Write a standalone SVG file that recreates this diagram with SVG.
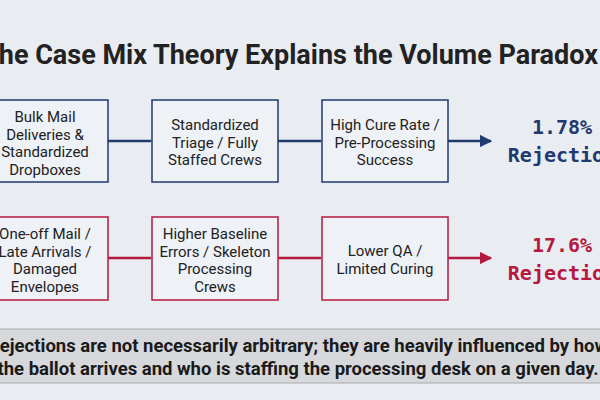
<svg xmlns="http://www.w3.org/2000/svg" width="600" height="400" viewBox="0 0 600 400">
<defs>
<style>
.t{font-family:Roboto,"Liberation Sans",sans-serif;font-size:15px;fill:#222;text-anchor:middle}
.b{fill:#eef1f6;stroke-width:1.5}
.blue{stroke:#1f3a6e}.red{stroke:#b5193f}
.res{font-family:"DejaVu Sans Mono","Liberation Mono",monospace;font-weight:bold;font-size:20px;text-anchor:middle}
</style>
<marker id="ab" viewBox="0 0 10 10" refX="9" refY="5" markerWidth="5" markerHeight="5" orient="auto"><path d="M0,0L10,5L0,10z" fill="#1f3a6e"/></marker>
<marker id="ar" viewBox="0 0 10 10" refX="9" refY="5" markerWidth="5" markerHeight="5" orient="auto"><path d="M0,0L10,5L0,10z" fill="#b5193f"/></marker>
</defs>
<rect width="600" height="400" fill="#e9ecf1"/>
<text x="290" y="64" font-family="Roboto,'Liberation Sans',sans-serif" font-weight="bold" font-size="27" fill="#222" text-anchor="middle">The Case Mix Theory Explains the Volume Paradox</text>
<g id="n1"><rect class="b blue" x="-18" y="100" width="126" height="82"/><text class="t" y="122"><tspan x="45">Bulk Mail</tspan><tspan x="45" dy="17.5">Deliveries &amp;</tspan><tspan x="45" dy="17.5">Standardized</tspan><tspan x="45" dy="17.5">Dropboxes</tspan></text></g>
<g id="n2"><rect class="b blue" x="152" y="100" width="126" height="82"/><text class="t" y="130"><tspan x="215">Standardized</tspan><tspan x="215" dy="17.5">Triage / Fully</tspan><tspan x="215" dy="17.5">Staffed Crews</tspan></text></g>
<g id="n3"><rect class="b blue" x="322" y="100" width="126" height="82"/><text class="t" y="130"><tspan x="385">High Cure Rate /</tspan><tspan x="385" dy="17.5">Pre-Processing</tspan><tspan x="385" dy="17.5">Success</tspan></text></g>
<g id="r1"><text class="res" fill="#1f3a6e" x="562" y="134">1.78%</text><text class="res" fill="#1f3a6e" x="562" y="162">Rejection</text></g>
<g id="n4"><rect class="b red" x="-18" y="217" width="126" height="83"/><text class="t" y="239"><tspan x="45">One-off Mail /</tspan><tspan x="45" dy="17.5">Late Arrivals /</tspan><tspan x="45" dy="17.5">Damaged</tspan><tspan x="45" dy="17.5">Envelopes</tspan></text></g>
<g id="n5"><rect class="b red" x="152" y="217" width="126" height="83"/><text class="t" y="239"><tspan x="215">Higher Baseline</tspan><tspan x="215" dy="17.5">Errors / Skeleton</tspan><tspan x="215" dy="17.5">Processing</tspan><tspan x="215" dy="17.5">Crews</tspan></text></g>
<g id="n6"><rect class="b red" x="322" y="217" width="126" height="83"/><text class="t" y="256"><tspan x="385">Lower QA /</tspan><tspan x="385" dy="17.5">Limited Curing</tspan></text></g>
<g id="r2"><text class="res" fill="#b5193f" x="562" y="252">17.6%</text><text class="res" fill="#b5193f" x="562" y="280">Rejection</text></g>
<g id="connectors" stroke-width="2.5" fill="none">
<path d="M108,141H151M278,141H321M448,141H491" stroke="#1f3a6e" marker-end="url(#ab)"/>
<path d="M108,258H151M278,258H321M448,258H491" stroke="#b5193f" marker-end="url(#ar)"/>
</g>
<rect x="-5" y="329" width="610" height="54" fill="#d6d8dc" stroke="#aaa" stroke-width="1"/>
<text font-family="Roboto,'Liberation Sans',sans-serif" font-weight="bold" font-size="18.5" fill="#1a1a1a" text-anchor="middle"><tspan x="298" y="352">Rejections are not necessarily arbitrary; they are heavily influenced by how</tspan><tspan x="298" y="375">the ballot arrives and who is staffing the processing desk on a given day.</tspan></text>
</svg>
